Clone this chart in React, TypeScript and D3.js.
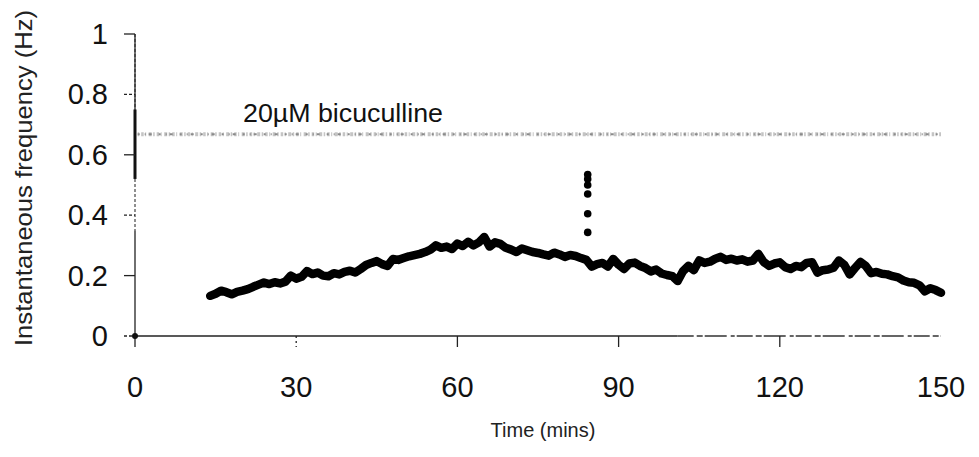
import React from "react";
import * as d3 from "d3";

const xTicks = [0, 30, 60, 90, 120, 150];
const yTicks = [0, 0.2, 0.4, 0.6, 0.8, 1];
const yTickLabels = ["0", "0.2", "0.4", "0.6", "0.8", "1"];

const traceTime = [
  14, 15, 16, 17, 18, 19, 20, 21, 22, 23, 24, 25, 26, 27, 28, 29, 30, 31, 32, 33, 34, 35, 36, 37, 38, 39,
  40, 41, 42, 43, 44, 45, 46, 47, 48, 49, 50, 51, 52, 53, 54, 55, 56, 57, 58, 59, 60, 61, 62, 63, 64, 65,
  66, 67, 68, 69, 70, 71, 72, 73, 74, 75, 76, 77, 78, 79, 80, 81, 82, 83, 84, 85, 86, 87, 88, 89, 90, 91,
  92, 93, 94, 95, 96, 97, 98, 99, 100, 101, 102, 103, 104, 105, 106, 107, 108, 109, 110, 111, 112, 113,
  114, 115, 116, 117, 118, 119, 120, 121, 122, 123, 124, 125, 126, 127, 128, 129, 130, 131, 132, 133, 134,
  135, 136, 137, 138, 139, 140, 141, 142, 143, 144, 145, 146, 147, 148, 149, 150,
];
const traceFreq = [
  0.133, 0.14, 0.15, 0.145, 0.138, 0.146, 0.15, 0.155, 0.163, 0.17, 0.177, 0.172, 0.178, 0.174, 0.18, 0.2,
  0.19, 0.196, 0.215, 0.205, 0.21, 0.2, 0.198, 0.208, 0.204, 0.212, 0.216, 0.21, 0.222, 0.235, 0.242, 0.248,
  0.238, 0.232, 0.255, 0.252, 0.258, 0.264, 0.268, 0.272, 0.278, 0.286, 0.3, 0.292, 0.296, 0.288, 0.306,
  0.298, 0.312, 0.3, 0.31, 0.328, 0.296, 0.31, 0.305, 0.292, 0.286, 0.278, 0.29, 0.284, 0.278, 0.275, 0.27,
  0.266, 0.276, 0.27, 0.262, 0.268, 0.265, 0.258, 0.252, 0.23, 0.238, 0.242, 0.23, 0.255, 0.236, 0.222, 0.24,
  0.243, 0.232, 0.225, 0.214, 0.22, 0.207, 0.202, 0.198, 0.182, 0.215, 0.232, 0.218, 0.25, 0.242, 0.246,
  0.256, 0.262, 0.252, 0.256, 0.25, 0.254, 0.246, 0.25, 0.272, 0.245, 0.232, 0.24, 0.244, 0.228, 0.222,
  0.232, 0.228, 0.242, 0.244, 0.21, 0.218, 0.22, 0.226, 0.25, 0.236, 0.204, 0.225, 0.245, 0.232, 0.208,
  0.212, 0.206, 0.204, 0.198, 0.194, 0.184, 0.178, 0.176, 0.168, 0.148, 0.158, 0.152, 0.143,
];

const spikeTime = 84.25;
const spikeFreq = [0.535, 0.52, 0.5, 0.47, 0.405, 0.343];

const bicucullineLevel = 0.668;
const bicucullineStart = 0.5;
const bicucullineEnd = 150;
const bicucullineLabel = "20\u00b5M bicuculline";

// pre-drug points stacked on the y axis (x = 0)
const axisBandTop = 0.75;
const axisBandBottom = 0.52;
const axisFaintBottom = 0.35;

const W = 979;
const H = 457;
const FONT = "'Liberation Sans', Arial, Helvetica, sans-serif";

export default function App() {
  const x = d3.scaleLinear().domain([0, 150]).range([135, 941]);
  const y = d3.scaleLinear().domain([0, 1]).range([336, 34]);

  const pts: [number, number][] = traceTime.map((t, i) => [t, traceFreq[i]]);
  const line = d3
    .line<[number, number]>()
    .x((d) => x(d[0]))
    .y((d) => y(d[1]))
    .curve(d3.curveLinear);

  const x0 = x(0);
  const y0 = y(0);

  return (
    <svg
      width={W}
      height={H}
      viewBox={`0 0 ${W} ${H}`}
      style={{ position: "absolute", left: 0, top: 0, background: "#fff" }}
    >
      <rect x={0} y={0} width={W} height={H} fill="#fff" />

      {/* bicuculline application bar (stippled grey) */}
      <line
        x1={x(bicucullineStart)}
        x2={x(bicucullineEnd)}
        y1={y(bicucullineLevel)}
        y2={y(bicucullineLevel)}
        stroke="#c4c4c4"
        strokeWidth={4}
        strokeDasharray="1.5 2 2.5 1.5 1 2.5 3 1.5"
      />
      <line
        x1={x(bicucullineStart)}
        x2={x(bicucullineEnd)}
        y1={y(bicucullineLevel)}
        y2={y(bicucullineLevel)}
        stroke="#8a8a8a"
        strokeWidth={2}
        strokeDasharray="2 5 1 3 3 7"
      />
      <text
        x={243}
        y={122}
        fontFamily={FONT}
        fontSize={26}
        fill="#111"
        textLength={200}
        lengthAdjust="spacingAndGlyphs"
      >
        {bicucullineLabel}
      </text>

      {/* Y axis */}
      <line x1={x0} x2={x0} y1={y(1)} y2={y(axisFaintBottom)} stroke="#444" strokeWidth={1.2} strokeDasharray="3 2" />
      <line x1={x0} x2={x0} y1={y(1)} y2={y(axisBandTop)} stroke="#222" strokeWidth={1.3} />
      <line x1={x0} x2={x0} y1={y(axisBandTop)} y2={y(axisBandBottom)} stroke="#111" strokeWidth={3} />
      <line x1={x0} x2={x0} y1={y(axisFaintBottom)} y2={y0 + 11} stroke="#222" strokeWidth={1.3} />
      {yTicks.map((t, i) => (
        <g key={`yt${i}`}>
          <line
            x1={x0 - 11}
            x2={x0}
            y1={y(t)}
            y2={y(t)}
            stroke="#222"
            strokeWidth={1.3}
            strokeDasharray={t === 0.8 || t === 0 || t === 0.4 ? "3 2" : undefined}
          />
          <text
            x={108}
            y={y(t)}
            textAnchor="end"
            dominantBaseline="central"
            fontFamily={FONT}
            fontSize={29}
            fill="#111"
          >
            {yTickLabels[i]}
          </text>
        </g>
      ))}

      {/* X axis */}
      <line x1={x0} x2={x(101)} y1={y0} y2={y0} stroke="#222" strokeWidth={1.5} />
      <line x1={x(101)} x2={x(150)} y1={y0} y2={y0} stroke="#333" strokeWidth={1.5} strokeDasharray="16 3 6 2 22 4 4 2" />
      {xTicks.map((t) => (
        <g key={`xt${t}`}>
          {t > 0 && t < 150 && (
            <line
              x1={x(t)}
              x2={x(t)}
              y1={y0}
              y2={y0 + 11}
              stroke="#222"
              strokeWidth={1.3}
              strokeDasharray={t === 30 ? "2 3" : undefined}
            />
          )}
          <text x={x(t)} y={397} textAnchor="middle" fontFamily={FONT} fontSize={29} fill="#111">
            {t}
          </text>
        </g>
      ))}
      <circle cx={x0} cy={y0} r={3} fill="#111" />

      {/* frequency trace */}
      <path
        d={line(pts) || ""}
        fill="none"
        stroke="#000"
        strokeWidth={8.5}
        strokeLinejoin="round"
        strokeLinecap="round"
      />
      {spikeFreq.map((v, i) => (
        <circle key={`sp${i}`} cx={x(spikeTime)} cy={y(v)} r={3.8} fill="#000" />
      ))}

      {/* axis titles */}
      <text
        transform={`translate(32, 178) rotate(-90)`}
        textAnchor="middle"
        fontFamily={FONT}
        fontSize={24}
        fill="#222"
        textLength={336}
        lengthAdjust="spacingAndGlyphs"
      >
        Instantaneous frequency (Hz)
      </text>
      <text x={543} y={437} textAnchor="middle" fontFamily={FONT} fontSize={20} fill="#222">
        Time (mins)
      </text>
    </svg>
  );
}
